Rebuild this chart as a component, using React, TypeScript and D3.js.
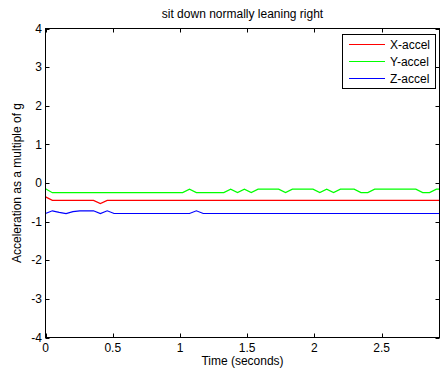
import * as d3 from "d3";

// samples at ~19.6 Hz
const DT = 0.051;
const xAccel = [
  -0.36, -0.45, -0.45, -0.45, -0.45, -0.45, -0.45, -0.45, -0.53, -0.45,
  -0.45, -0.45, -0.45, -0.45, -0.45, -0.45, -0.45, -0.45, -0.45, -0.45,
  -0.45, -0.45, -0.45, -0.45, -0.45, -0.45, -0.45, -0.45, -0.45, -0.45,
  -0.45, -0.45, -0.45, -0.45, -0.45, -0.45, -0.45, -0.45, -0.45, -0.45,
  -0.45, -0.45, -0.45, -0.45, -0.45, -0.45, -0.45, -0.45, -0.45, -0.45,
  -0.45, -0.45, -0.45, -0.45, -0.45, -0.45, -0.45, -0.45, -0.45,
];
const yAccel = [
  -0.15, -0.25, -0.25, -0.25, -0.25, -0.25, -0.25, -0.25, -0.25, -0.25,
  -0.25, -0.25, -0.25, -0.25, -0.25, -0.25, -0.25, -0.25, -0.25, -0.25,
  -0.25, -0.16, -0.25, -0.25, -0.25, -0.25, -0.25, -0.16, -0.25, -0.16,
  -0.25, -0.16, -0.16, -0.16, -0.16, -0.25, -0.16, -0.16, -0.16, -0.16,
  -0.25, -0.16, -0.25, -0.16, -0.16, -0.16, -0.25, -0.25, -0.16, -0.16,
  -0.16, -0.16, -0.16, -0.16, -0.16, -0.25, -0.25, -0.16, -0.16,
];
const zAccel = [
  -0.79, -0.72, -0.76, -0.79, -0.74, -0.72, -0.72, -0.72, -0.79, -0.72,
  -0.79, -0.79, -0.79, -0.79, -0.79, -0.79, -0.79, -0.79, -0.79, -0.79,
  -0.79, -0.79, -0.72, -0.79, -0.79, -0.79, -0.79, -0.79, -0.79, -0.79,
  -0.79, -0.79, -0.79, -0.79, -0.79, -0.79, -0.79, -0.79, -0.79, -0.79,
  -0.79, -0.79, -0.79, -0.79, -0.79, -0.79, -0.79, -0.79, -0.79, -0.79,
  -0.79, -0.79, -0.79, -0.79, -0.79, -0.79, -0.79, -0.79, -0.79,
];
const seriesNames = ["X-accel", "Y-accel", "Z-accel"];
const seriesColors = ["#ff0000", "#00ff00", "#0000ff"];
const xTicks = [0, 0.5, 1, 1.5, 2, 2.5];
const yTicks = [-4, -3, -2, -1, 0, 1, 2, 3, 4];

const W = 441;
const H = 375;
const font = "'Liberation Sans', Arial, Helvetica, sans-serif";

export default function App() {
  const left = 45.5, right = 439.5, top = 28.5, bottom = 337.5;
  const x = d3.scaleLinear().domain([0, 2.93]).range([left, right]);
  const y = d3.scaleLinear().domain([-4, 4]).range([bottom, top]);
  const line = d3
    .line<number>()
    .x((_, i) => x(i * DT))
    .y(d => y(d));
  const series = [xAccel, yAccel, zAccel];
  const tick = 4;
  const cx = (left + right) / 2;

  return (
    <svg
      width={W}
      height={H}
      style={{ position: "absolute", left: 0, top: 0, background: "#fff" }}
      fontFamily={font}
      fontSize={12}
    >
      <defs>
        <clipPath id="plot">
          <rect x={left} y={top} width={right - left} height={bottom - top} />
        </clipPath>
      </defs>
      <rect x={0} y={0} width={W} height={H} fill="#fff" />

      <g clipPath="url(#plot)">
        {series.map((s, k) => (
          <path key={k} d={line(s) ?? ""} fill="none" stroke={seriesColors[k]} strokeWidth={1.2} />
        ))}
      </g>

      {/* ticks */}
      {xTicks.map(t => (
        <g key={"x" + t}>
          <line x1={Math.round(x(t)) + 0.5} x2={Math.round(x(t)) + 0.5} y1={bottom} y2={bottom - tick} stroke="#000" />
          <line x1={Math.round(x(t)) + 0.5} x2={Math.round(x(t)) + 0.5} y1={top} y2={top + tick} stroke="#000" />
          <text x={x(t)} y={351.5} textAnchor="middle" fill="#000">
            {t}
          </text>
        </g>
      ))}
      {yTicks.map(t => (
        <g key={"y" + t}>
          <line x1={left} x2={left + tick} y1={Math.round(y(t)) + 0.5} y2={Math.round(y(t)) + 0.5} stroke="#000" />
          <line x1={right} x2={right - tick} y1={Math.round(y(t)) + 0.5} y2={Math.round(y(t)) + 0.5} stroke="#000" />
          <text x={42} y={y(t)} dy="0.35em" textAnchor="end" fill="#000">
            {t}
          </text>
        </g>
      ))}

      <rect x={left} y={top} width={right - left} height={bottom - top} fill="none" stroke="#000" strokeWidth={1} />

      {/* legend */}
      <rect x={342.5} y={34.5} width={93} height={54} fill="#fff" stroke="#000" strokeWidth={1} />
      {seriesNames.map((n, k) => (
        <g key={n} transform={`translate(0,${44.5 + k * 17})`}>
          <line x1={349} x2={385} y1={0} y2={0} stroke={seriesColors[k]} strokeWidth={1.2} />
          <text x={390} y={0} dy="0.35em" fill="#000">
            {n}
          </text>
        </g>
      ))}

      <text x={cx} y={18} textAnchor="middle" fill="#000">
        sit down normally leaning right
      </text>
      <text x={cx} y={364.5} textAnchor="middle" fill="#000">
        Time (seconds)
      </text>
      <text transform={`translate(21,${(top + bottom) / 2}) rotate(-90)`} textAnchor="middle" fill="#000">
        Acceleration as a multiple of g
      </text>
    </svg>
  );
}
